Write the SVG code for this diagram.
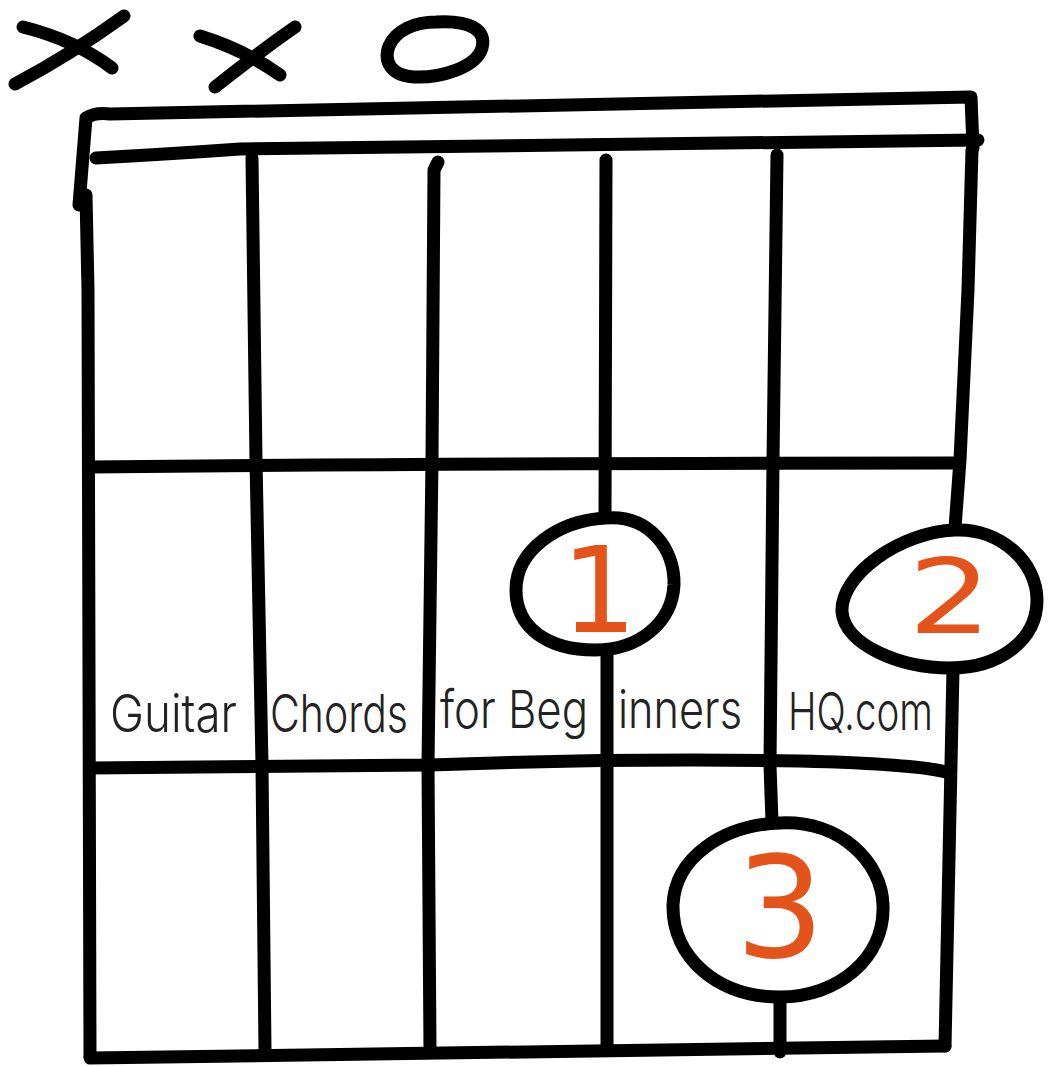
<svg xmlns="http://www.w3.org/2000/svg" width="1048" height="1066" viewBox="0 0 1048 1066">
<style>
.ln{fill:none;stroke:#000;stroke-width:13;stroke-linecap:round;stroke-linejoin:round}
.ring{fill:#fff;stroke:#000;stroke-width:13;stroke-linejoin:round}
.num{font-family:"DejaVu Sans",sans-serif;fill:#E4531A}
.hand{font-family:"Inter","Liberation Sans",sans-serif;font-weight:300;font-size:52px;fill:#222}
</style>
<rect width="1048" height="1066" fill="#fff"/>
<g id="marks">
<path class="ln" d="M15,84 Q70,55 124,16"/>
<path class="ln" d="M23,27 Q75,40 112,68"/>
<path class="ln" d="M215,87 Q255,55 295,27"/>
<path class="ln" d="M200,36 Q245,50 280,75"/>
<path class="ln" d="M436,22 C470,20 487,30 482,48 C476,68 440,78 414,77 C392,76 383,62 389,46 C396,30 415,22 436,22 Z"/>
</g>
<g id="connectors">
<path class="ln" d="M79,205 L86,118 Q95,112 110,114 Q500,108 971,97 L973,148"/>
<path class="ln" d="M96,158 Q170,154 240,149 Q500,147 978,140"/>
<path class="ln" d="M86,195 L88,290 L90,1056"/>
<path class="ln" d="M972,150 L968,290 L960,460 L955,528"/>
<path class="ln" d="M953,670 L945,1046"/>
<path class="ln" d="M252,158 L256,460 L262,765 L265,1052"/>
<path class="ln" d="M438,162 L434,170 L432,460 L428,765 L430,1050"/>
<path class="ln" d="M606,160 L605,518"/>
<path class="ln" d="M607,648 L607,1050"/>
<path class="ln" d="M777,155 L773,462 L770,765 L772,822"/>
<path class="ln" d="M780,995 L780,1052"/>
<path class="ln" d="M90,467 Q500,463 955,463"/>
<path class="ln" d="M90,768 Q300,766 430,765 Q620,758 800,761 Q920,764 950,773"/>
<path class="ln" d="M90,1058 Q500,1052 945,1046"/>
</g>
<g id="label">
<text class="hand" x="110" y="732" textLength="127" lengthAdjust="spacingAndGlyphs">Guitar</text>
<text class="hand" x="270" y="732" textLength="138" lengthAdjust="spacingAndGlyphs">Chords</text>
<text class="hand" x="440" y="728" textLength="148" lengthAdjust="spacingAndGlyphs">for Beg</text>
<text class="hand" x="618" y="728" textLength="124" lengthAdjust="spacingAndGlyphs">inners</text>
<text class="hand" x="788" y="730" textLength="145" lengthAdjust="spacingAndGlyphs">HQ.com</text>
</g>
<g id="finger1">
<path class="ring" d="M605,518 C650,514 675,550 674,585 C672,622 640,650 595,650 C548,650 516,628 516,590 C516,550 558,521 605,518 Z"/>
<text class="num" x="599" y="632" font-size="119" text-anchor="middle">1</text>
</g>
<g id="finger2">
<path class="ring" d="M955,530 C1000,528 1037,562 1037,600 C1037,640 1000,668 950,668 C900,668 845,645 842,612 C840,575 900,532 955,530 Z"/>
<text class="num" x="908" y="633" font-size="103" textLength="84" lengthAdjust="spacingAndGlyphs">2</text>
</g>
<g id="finger3">
<path class="ring" d="M780,823 C840,820 882,862 883,905 C885,958 838,997 780,997 C718,997 672,958 673,905 C675,858 722,825 780,823 Z"/>
<text class="num" x="780" y="957" font-size="140" text-anchor="middle">3</text>
</g>
</svg>
